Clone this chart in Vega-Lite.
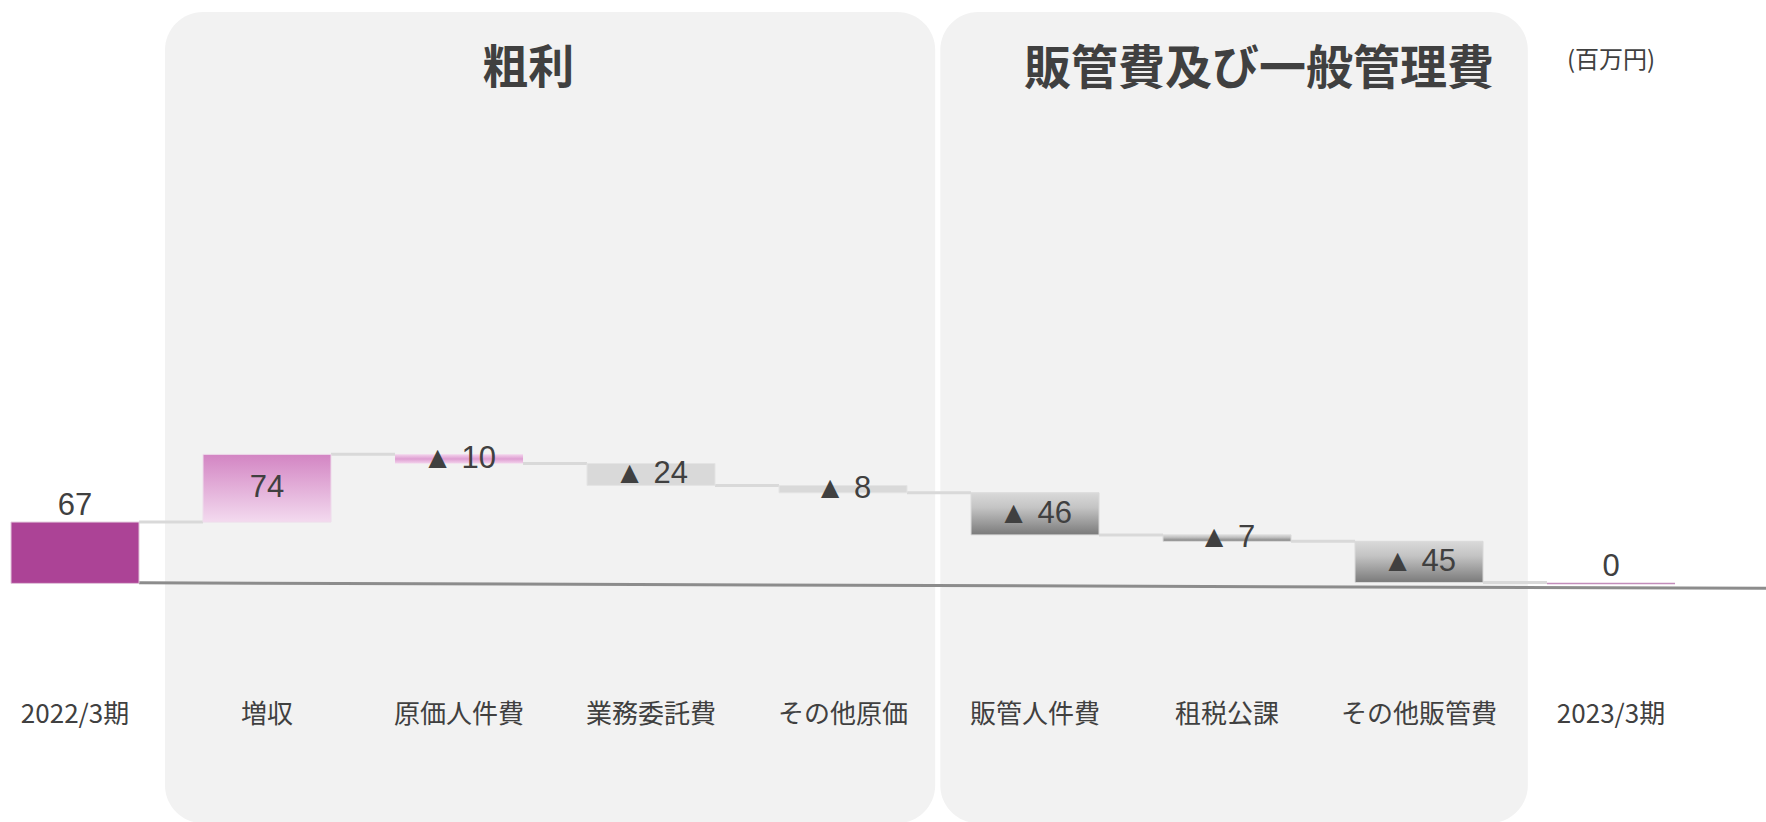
{
  "$schema": "https://vega.github.io/schema/vega-lite/v6.json",
  "width": 1766,
  "height": 690,
  "autosize": {"type": "none"},
  "padding": {"left": 0, "right": 0, "top": 0, "bottom": 132},
  "background": "#FFFFFF",
  "config": {
    "view": {"stroke": null},
    "axisX": {"domain": false, "ticks": false, "tickSize": 0, "grid": false, "labelAngle": 0, "labelFont": "Noto Sans CJK JP", "labelFontSize": 26, "labelColor": "#404040", "labelPadding": 11, "title": null}
  },
  "datasets": {
    "bars": [
      {"cat": "2022/3期", "start": 0, "end": 67, "label": "67", "next": "増収"},
      {"cat": "増収", "start": 67, "end": 141, "label": "74", "next": "原価人件費"},
      {"cat": "原価人件費", "start": 141, "end": 131, "label": "▲ 10", "next": "業務委託費"},
      {"cat": "業務委託費", "start": 131, "end": 107, "label": "▲ 24", "next": "その他原価"},
      {"cat": "その他原価", "start": 107, "end": 99, "label": "▲ 8", "next": "販管人件費"},
      {"cat": "販管人件費", "start": 99, "end": 53, "label": "▲ 46", "next": "租税公課"},
      {"cat": "租税公課", "start": 53, "end": 46, "label": "▲ 7", "next": "その他販管費"},
      {"cat": "その他販管費", "start": 46, "end": 1, "label": "▲ 45", "next": "2023/3期"},
      {"cat": "2023/3期", "start": 0, "end": 0, "label": "0"}
    ],
    "panels": [
      {"panel": "粗利", "from": "増収", "to": "その他原価", "anchor": "原価人件費"},
      {"panel": "販管費及び一般管理費", "from": "販管人件費", "to": "その他販管費", "anchor": "租税公課"}
    ]
  },
  "layer": [
    {
      "data": {"name": "panels"},
      "transform": [{"filter": "datum.panel === '粗利'"}],
      "mark": {"type": "rect", "fill": "#F2F2F2", "cornerRadius": 38},
      "encoding": {
        "x": {"field": "from", "type": "nominal", "bandPosition": -0.297, "title": null, "scale": {"type": "band", "domain": ["2022/3期", "増収", "原価人件費", "業務委託費", "その他原価", "販管人件費", "租税公課", "その他販管費", "2023/3期"], "paddingInner": 0.3333, "paddingOuter": 0.2656, "align": 0.108}},
        "x2": {"field": "to", "bandPosition": 1.22},
        "y": {"datum": 624.5, "type": "quantitative", "axis": null, "scale": {"domain": [-116.5, 637.5], "zero": false, "nice": false}},
        "y2": {"datum": -262}
      }
    },
    {
      "data": {"name": "panels"},
      "transform": [{"filter": "datum.panel !== '粗利'"}],
      "mark": {"type": "rect", "fill": "#F2F2F2", "cornerRadius": 38},
      "encoding": {
        "x": {"field": "from", "type": "nominal", "bandPosition": -0.24, "title": null, "scale": {"type": "band", "domain": ["2022/3期", "増収", "原価人件費", "業務委託費", "その他原価", "販管人件費", "租税公課", "その他販管費", "2023/3期"], "paddingInner": 0.3333, "paddingOuter": 0.2656, "align": 0.108}},
        "x2": {"field": "to", "bandPosition": 1.35},
        "y": {"datum": 624.5, "type": "quantitative", "axis": null, "scale": {"domain": [-116.5, 637.5], "zero": false, "nice": false}},
        "y2": {"datum": -262}
      }
    },
    {
      "data": {"values": [{"from": "2022/3期", "to": "2023/3期"}]},
      "mark": {"type": "rule", "stroke": "#8C8C8C", "strokeWidth": 3},
      "encoding": {
        "x": {"field": "from", "type": "nominal", "bandPosition": 1, "title": null, "scale": {"type": "band", "domain": ["2022/3期", "増収", "原価人件費", "業務委託費", "その他原価", "販管人件費", "租税公課", "その他販管費", "2023/3期"], "paddingInner": 0.3333, "paddingOuter": 0.2656, "align": 0.108}},
        "x2": {"field": "to", "bandPosition": 1.75},
        "y": {"datum": 0.6, "type": "quantitative", "axis": null, "scale": {"domain": [-116.5, 637.5], "zero": false, "nice": false}},
        "y2": {"datum": -5.4}
      }
    },
    {
      "data": {"name": "bars"},
      "transform": [{"filter": "datum.next != null"}],
      "mark": {"type": "rule", "stroke": "#D9D9D9", "strokeWidth": 3},
      "encoding": {
        "x": {"field": "cat", "type": "nominal", "bandPosition": 1, "title": null, "scale": {"type": "band", "domain": ["2022/3期", "増収", "原価人件費", "業務委託費", "その他原価", "販管人件費", "租税公課", "その他販管費", "2023/3期"], "paddingInner": 0.3333, "paddingOuter": 0.2656, "align": 0.108}},
        "x2": {"field": "next", "bandPosition": 0},
        "y": {"field": "end", "type": "quantitative", "axis": null, "scale": {"domain": [-116.5, 637.5], "zero": false, "nice": false}}
      }
    },
    {
      "data": {"name": "bars"},
      "transform": [{"filter": {"field": "cat", "oneOf": ["2022/3期"]}}],
      "mark": {"type": "bar", "fill": "#AC4396", "stroke": "#E2C7DC", "strokeWidth": 1},
      "encoding": {
        "x": {"field": "cat", "type": "nominal", "title": null, "scale": {"type": "band", "domain": ["2022/3期", "増収", "原価人件費", "業務委託費", "その他原価", "販管人件費", "租税公課", "その他販管費", "2023/3期"], "paddingInner": 0.3333, "paddingOuter": 0.2656, "align": 0.108}},
        "y": {"field": "start", "type": "quantitative", "axis": null, "scale": {"domain": [-116.5, 637.5], "zero": false, "nice": false}},
        "y2": {"field": "end"}
      }
    },
    {
      "data": {"name": "bars"},
      "transform": [{"filter": {"field": "cat", "oneOf": ["2023/3期"]}}],
      "mark": {"type": "bar", "fill": "#C38DBB", "stroke": "#C38DBB", "strokeWidth": 1.5},
      "encoding": {
        "x": {"field": "cat", "type": "nominal", "title": null, "scale": {"type": "band", "domain": ["2022/3期", "増収", "原価人件費", "業務委託費", "その他原価", "販管人件費", "租税公課", "その他販管費", "2023/3期"], "paddingInner": 0.3333, "paddingOuter": 0.2656, "align": 0.108}},
        "y": {"field": "start", "type": "quantitative", "axis": null, "scale": {"domain": [-116.5, 637.5], "zero": false, "nice": false}},
        "y2": {"field": "end"}
      }
    },
    {
      "data": {"name": "bars"},
      "transform": [{"filter": {"field": "cat", "oneOf": ["増収"]}}],
      "mark": {"type": "bar", "stroke": "#EEDDEB", "strokeWidth": 1, "fill": {"gradient": "linear", "x1": 0, "y1": 0, "x2": 0, "y2": 1, "stops": [{"offset": 0, "color": "#D385C3"}, {"offset": 1, "color": "#F3DAEF"}]}},
      "encoding": {
        "x": {"field": "cat", "type": "nominal", "title": null, "scale": {"type": "band", "domain": ["2022/3期", "増収", "原価人件費", "業務委託費", "その他原価", "販管人件費", "租税公課", "その他販管費", "2023/3期"], "paddingInner": 0.3333, "paddingOuter": 0.2656, "align": 0.108}},
        "y": {"field": "start", "type": "quantitative", "axis": null, "scale": {"domain": [-116.5, 637.5], "zero": false, "nice": false}},
        "y2": {"field": "end"}
      }
    },
    {
      "data": {"name": "bars"},
      "transform": [{"filter": {"field": "cat", "oneOf": ["原価人件費"]}}],
      "mark": {"type": "bar", "fill": {"gradient": "linear", "x1": 0, "y1": 0, "x2": 0, "y2": 1, "stops": [{"offset": 0, "color": "#F3D3EC"}, {"offset": 0.5, "color": "#DE9ED2"}, {"offset": 1, "color": "#F3D3EC"}]}},
      "encoding": {
        "x": {"field": "cat", "type": "nominal", "title": null, "scale": {"type": "band", "domain": ["2022/3期", "増収", "原価人件費", "業務委託費", "その他原価", "販管人件費", "租税公課", "その他販管費", "2023/3期"], "paddingInner": 0.3333, "paddingOuter": 0.2656, "align": 0.108}},
        "y": {"field": "start", "type": "quantitative", "axis": null, "scale": {"domain": [-116.5, 637.5], "zero": false, "nice": false}},
        "y2": {"field": "end"}
      }
    },
    {
      "data": {"name": "bars"},
      "transform": [{"filter": {"field": "cat", "oneOf": ["業務委託費", "その他原価"]}}],
      "mark": {"type": "bar", "fill": "#D9D9D9", "stroke": "#E4E4E4", "strokeWidth": 1},
      "encoding": {
        "x": {"field": "cat", "type": "nominal", "title": null, "scale": {"type": "band", "domain": ["2022/3期", "増収", "原価人件費", "業務委託費", "その他原価", "販管人件費", "租税公課", "その他販管費", "2023/3期"], "paddingInner": 0.3333, "paddingOuter": 0.2656, "align": 0.108}},
        "y": {"field": "start", "type": "quantitative", "axis": null, "scale": {"domain": [-116.5, 637.5], "zero": false, "nice": false}},
        "y2": {"field": "end"}
      }
    },
    {
      "data": {"name": "bars"},
      "transform": [{"filter": {"field": "cat", "oneOf": ["販管人件費", "租税公課", "その他販管費"]}}],
      "mark": {"type": "bar", "stroke": "#DADADA", "strokeWidth": 1, "fill": {"gradient": "linear", "x1": 0, "y1": 0, "x2": 0, "y2": 1, "stops": [{"offset": 0, "color": "#D9D9D9"}, {"offset": 0.35, "color": "#C4C4C4"}, {"offset": 1, "color": "#7A7A7A"}]}},
      "encoding": {
        "x": {"field": "cat", "type": "nominal", "title": null, "scale": {"type": "band", "domain": ["2022/3期", "増収", "原価人件費", "業務委託費", "その他原価", "販管人件費", "租税公課", "その他販管費", "2023/3期"], "paddingInner": 0.3333, "paddingOuter": 0.2656, "align": 0.108}},
        "y": {"field": "start", "type": "quantitative", "axis": null, "scale": {"domain": [-116.5, 637.5], "zero": false, "nice": false}},
        "y2": {"field": "end"}
      }
    },
    {
      "data": {"name": "bars"},
      "transform": [{"filter": {"field": "cat", "oneOf": ["2022/3期", "2023/3期"]}}],
      "mark": {"type": "text", "font": "Liberation Sans", "fontSize": 31, "fill": "#404040", "baseline": "alphabetic", "align": "center", "dy": -7},
      "encoding": {
        "x": {"field": "cat", "type": "nominal", "title": null, "scale": {"type": "band", "domain": ["2022/3期", "増収", "原価人件費", "業務委託費", "その他原価", "販管人件費", "租税公課", "その他販管費", "2023/3期"], "paddingInner": 0.3333, "paddingOuter": 0.2656, "align": 0.108}},
        "y": {"field": "end", "type": "quantitative", "axis": null, "scale": {"domain": [-116.5, 637.5], "zero": false, "nice": false}},
        "text": {"field": "label"}
      }
    },
    {
      "data": {"name": "bars"},
      "transform": [
        {"filter": {"not": {"field": "cat", "oneOf": ["2022/3期", "2023/3期"]}}},
        {"fold": ["start", "end"], "as": ["edge", "level"]}
      ],
      "mark": {"type": "text", "font": "Liberation Sans", "fontSize": 31, "fill": "#404040", "baseline": "middle", "align": "center"},
      "encoding": {
        "x": {"field": "cat", "type": "nominal", "title": null, "scale": {"type": "band", "domain": ["2022/3期", "増収", "原価人件費", "業務委託費", "その他原価", "販管人件費", "租税公課", "その他販管費", "2023/3期"], "paddingInner": 0.3333, "paddingOuter": 0.2656, "align": 0.108}},
        "y": {"aggregate": "mean", "field": "level", "type": "quantitative", "axis": null, "scale": {"domain": [-116.5, 637.5], "zero": false, "nice": false}},
        "text": {"field": "label", "type": "nominal"}
      }
    },
    {
      "data": {"name": "panels"},
      "transform": [{"filter": "datum.panel === '粗利'"}],
      "mark": {"type": "text", "font": "Noto Sans CJK JP", "fontWeight": "bold", "fontSize": 46, "fill": "#404040", "baseline": "middle", "align": "center"},
      "encoding": {
        "x": {"field": "anchor", "type": "nominal", "bandPosition": 1.04, "title": null, "scale": {"type": "band", "domain": ["2022/3期", "増収", "原価人件費", "業務委託費", "その他原価", "販管人件費", "租税公課", "その他販管費", "2023/3期"], "paddingInner": 0.3333, "paddingOuter": 0.2656, "align": 0.108}},
        "y": {"datum": 562, "type": "quantitative", "axis": null, "scale": {"domain": [-116.5, 637.5], "zero": false, "nice": false}},
        "text": {"field": "panel"}
      }
    },
    {
      "data": {"name": "panels"},
      "transform": [{"filter": "datum.panel !== '粗利'"}],
      "mark": {"type": "text", "font": "Noto Sans CJK JP", "fontWeight": "bold", "fontSize": 47, "fill": "#404040", "baseline": "middle", "align": "center"},
      "encoding": {
        "x": {"field": "anchor", "type": "nominal", "bandPosition": 0.75, "title": null, "scale": {"type": "band", "domain": ["2022/3期", "増収", "原価人件費", "業務委託費", "その他原価", "販管人件費", "租税公課", "その他販管費", "2023/3期"], "paddingInner": 0.3333, "paddingOuter": 0.2656, "align": 0.108}},
        "y": {"datum": 561.5, "type": "quantitative", "axis": null, "scale": {"domain": [-116.5, 637.5], "zero": false, "nice": false}},
        "text": {"field": "panel"}
      }
    },
    {
      "data": {"values": [{"unit": "(百万円)", "cat": "2023/3期"}]},
      "mark": {"type": "text", "font": "Noto Sans CJK JP", "fontSize": 24, "fill": "#404040", "baseline": "middle", "align": "center"},
      "encoding": {
        "x": {"field": "cat", "type": "nominal", "bandPosition": 0.5, "title": null, "scale": {"type": "band", "domain": ["2022/3期", "増収", "原価人件費", "業務委託費", "その他原価", "販管人件費", "租税公課", "その他販管費", "2023/3期"], "paddingInner": 0.3333, "paddingOuter": 0.2656, "align": 0.108}},
        "y": {"datum": 570.5, "type": "quantitative", "axis": null, "scale": {"domain": [-116.5, 637.5], "zero": false, "nice": false}},
        "text": {"field": "unit"}
      }
    }
  ]
}
